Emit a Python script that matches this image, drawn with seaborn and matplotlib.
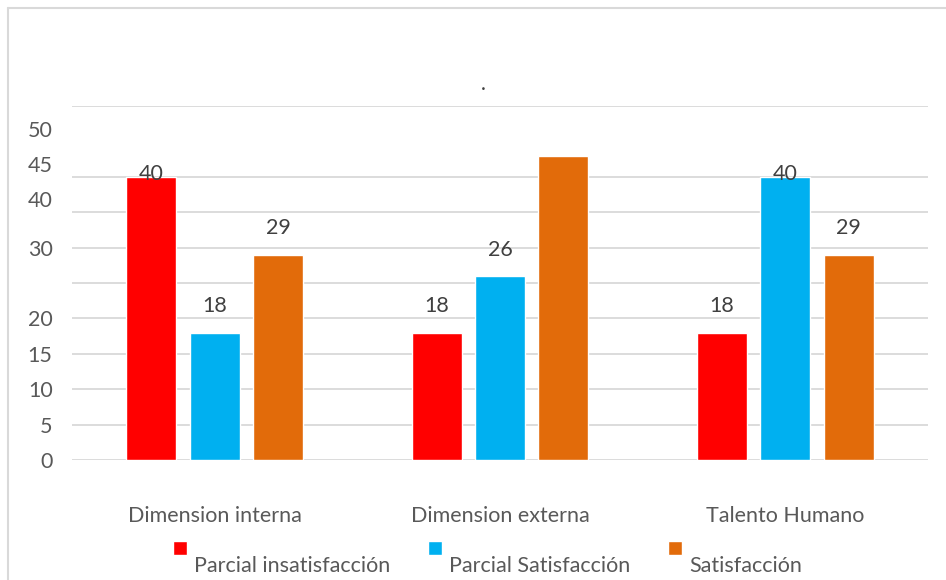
import numpy as np
import pandas as pd
import matplotlib
matplotlib.use('Agg')
import matplotlib.pyplot as plt
from matplotlib.lines import Line2D
import seaborn as sns

# data
categorias = ['Dimension interna', 'Dimension externa', 'Talento Humano']
series = ['Parcial insatisfacción', 'Parcial Satisfacción', 'Satisfacción']
parcial_insat = [40, 18, 18]
parcial_sat = [18, 26, 40]
satisfaccion = [29, 43, 29]
etiquetas = [['40', '18', '29'], ['18', '26', ''], ['18', '40', '29']]
ytick_labels = ['0', '5', '10', '15', '20', '30', '40', '45', '50']

colores = ['#FF0000', '#00B0F0', '#E26B0A']
gris = '#595959'

df = pd.DataFrame({
    'cat': categorias * 3,
    'serie': np.repeat(series, 3),
    'valor': parcial_insat + parcial_sat + satisfaccion,
})

sns.set_style('white')
plt.rcParams['font.family'] = ['Lato', 'DejaVu Sans']

fig = plt.figure(figsize=(9.46, 5.8), dpi=100)
ax = fig.add_axes([72 / 946, 1 - 460 / 580, 856 / 946, 354 / 580])

sns.barplot(data=df, x='cat', y='valor', hue='serie', order=categorias,
            hue_order=series, palette=colores, width=0.666, gap=0.21,
            saturation=1, ax=ax, legend=True)

ax.set_xlim(-0.5, 2.5)
ax.set_ylim(0, 50)
ax.set_xlabel('')
ax.set_ylabel('')

# gridlines (45 line is missing in the original)
for g in [0, 5, 10, 15, 20, 25, 30, 35, 40, 50]:
    ax.axhline(g, color='#D9D9D9', lw=1.3, zorder=0)

# y labels as they appear (shifted)
ax.set_yticks([0, 5, 10, 15, 20, 30, 36.8, 41.8, 46.7])
ax.set_yticklabels(ytick_labels)
ax.tick_params(axis='y', length=0, pad=14, labelsize=15.5, labelcolor=gris)
ax.tick_params(axis='x', length=0, pad=33, labelsize=15.5, labelcolor=gris)
for s in ax.spines.values():
    s.set_visible(False)

# data labels
for i, cont in enumerate(ax.containers):
    for j, bar in enumerate(cont):
        txt = etiquetas[j][i]
        if not txt:
            continue
        off = 2 if txt == '40' else 19
        ax.annotate(txt, (bar.get_x() + bar.get_width() / 2, bar.get_height()),
                    xytext=(0, off), textcoords='offset points',
                    ha='center', va='center', fontsize=15.5, color='#404040')

# title
fig.text(483 / 946, 1 - 84 / 580, '.', ha='center', va='center',
         fontsize=15, color='#404040')

# legend
leg = ax.legend(loc='upper center', bbox_to_anchor=(0.485, -0.17), ncol=3,
                frameon=False, fontsize=15.5, handlelength=0.68,
                handleheight=0.68, handletextpad=0.3, columnspacing=1.75)
for t in leg.get_texts():
    t.set_color(gris)
    t.set_y(-16)

# chart border (top and left)
fig.add_artist(Line2D([8 / 946, 1], [1 - 8 / 580, 1 - 8 / 580],
                      color='#D9D9D9', lw=1.5, transform=fig.transFigure))
fig.add_artist(Line2D([8 / 946, 8 / 946], [0, 1 - 8 / 580],
                      color='#D9D9D9', lw=1.5, transform=fig.transFigure))

fig.savefig('out.png', dpi=100)
